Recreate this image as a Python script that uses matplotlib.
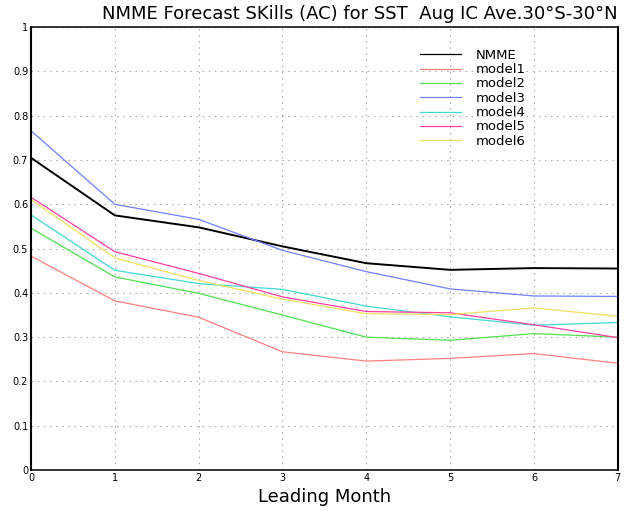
import matplotlib
matplotlib.use("Agg")
import matplotlib.pyplot as plt

# ======================================
# DATA
# ======================================

lead_months = [0, 1, 2, 3, 4, 5, 6, 7]

nmme = [0.705, 0.575, 0.548, 0.505, 0.467, 0.452, 0.456, 0.455]
model1 = [0.483, 0.382, 0.345, 0.267, 0.246, 0.252, 0.263, 0.241]
model2 = [0.546, 0.436, 0.399, 0.350, 0.300, 0.293, 0.308, 0.300]
model3 = [0.766, 0.600, 0.566, 0.496, 0.448, 0.409, 0.393, 0.392]
model4 = [0.576, 0.451, 0.421, 0.408, 0.370, 0.346, 0.327, 0.333]
model5 = [0.616, 0.493, 0.444, 0.391, 0.358, 0.355, 0.328, 0.299]
model6 = [0.611, 0.479, 0.428, 0.386, 0.353, 0.351, 0.366, 0.347]

series_names = ["NMME", "model1", "model2", "model3", "model4", "model5", "model6"]
series_values = [nmme, model1, model2, model3, model4, model5, model6]
series_colors = ["black", "#ff8080", "#50e050", "#7080ff", "#40d8d0", "#ff40a0", "#eee060"]

# ======================================
# PLOT
# ======================================

fig = plt.figure(figsize=(6.24, 5.13), dpi=100)
ax = fig.add_axes([0.0497, 0.0838, 0.9403, 0.8632])

for name, vals, col in zip(series_names, series_values, series_colors):
    lw = 1.4 if name == "NMME" else 0.9
    ax.plot(lead_months, vals, color=col, linewidth=lw, label=name)

ax.set_xlim(0, 7)
ax.set_ylim(0, 1)
ax.set_xticks(lead_months)
yticks = [i / 10 for i in range(11)]
ax.set_yticks(yticks)
ax.set_yticklabels(["0" if v == 0 else ("1" if v == 1 else f"{v:.1f}") for v in yticks])

ax.grid(True, linestyle=(0, (1.5, 4)), color="#b0b0b0", linewidth=0.8)
ax.tick_params(labelsize=7, length=0, pad=2)
for side, s in ax.spines.items():
    s.set_linewidth(1.5 if side in ("left", "right") else 1.1)

ax.set_title("NMME Forecast SKills (AC) for SST  Aug IC Ave.30°S-30°N",
             fontsize=13, pad=6, x=0.56)
ax.set_xlabel("Leading Month", fontsize=13, labelpad=4)

leg = ax.legend(loc="upper left", bbox_to_anchor=(0.652, 0.966), frameon=False,
                fontsize=9.5, handlelength=3.1, handletextpad=1.1,
                labelspacing=0.1, borderpad=0)
for line in leg.get_lines():
    line.set_linewidth(0.9)

fig.savefig("out.png", dpi=100)
